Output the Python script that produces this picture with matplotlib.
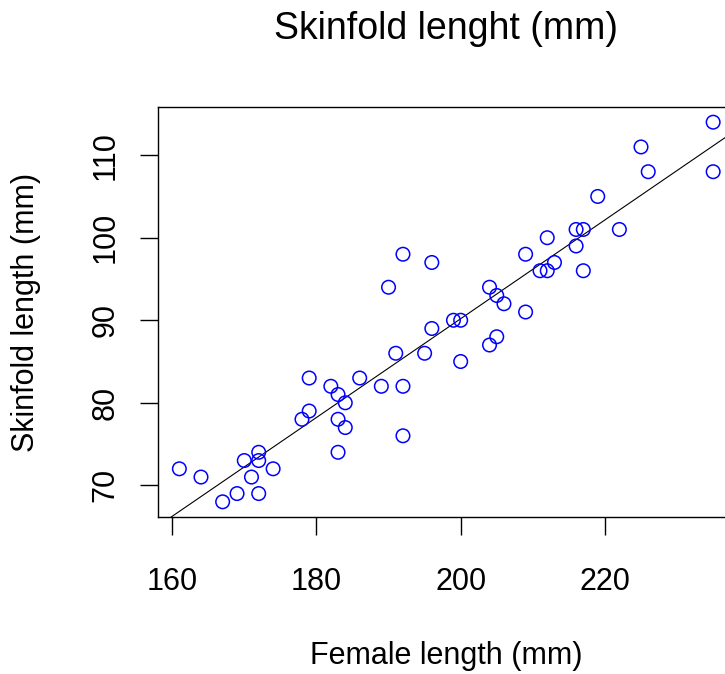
import matplotlib
matplotlib.use("Agg")
import matplotlib.pyplot as plt
import numpy as np

plt.rcParams['font.family'] = ['Liberation Sans', 'DejaVu Sans']

female_length = [161, 164, 167, 169, 172, 171, 174, 170, 172, 172,
                 179, 178, 179, 182, 183, 184, 183, 184, 183, 186,
                 189, 192, 192, 191, 195,
                 192, 196, 190, 204, 205, 206, 209, 209, 212, 211, 212, 213,
                 216, 217, 216, 217, 222,
                 199, 200, 196, 200, 204, 205,
                 235, 235, 225, 226, 219]
skinfold_length = [72, 71, 68, 69, 69, 71, 72, 73, 74, 73,
                   83, 78, 79, 82, 81, 80, 78, 77, 74, 83,
                   82, 82, 76, 86, 86,
                   98, 97, 94, 94, 93, 92, 91, 98, 100, 96, 96, 97,
                   101, 101, 99, 96, 101,
                   90, 90, 89, 85, 87, 88,
                   114, 108, 111, 108, 105]

x_ticks = [160, 180, 200, 220]
y_ticks = [70, 80, 90, 100, 110]
title = "Skinfold lenght (mm)"
xlabel = "Female length (mm)"
ylabel = "Skinfold length (mm)"

W, H = 725, 674
fig = plt.figure(figsize=(W / 100, H / 100), dpi=100)
left, right, top, bottom = 158, 734.5, 107, 517
ax = fig.add_axes([left / W, 1 - bottom / H, (right - left) / W, (bottom - top) / H])

x = np.array(female_length, dtype=float)
y = np.array(skinfold_length, dtype=float)

ax.scatter(x, y, s=95, facecolors='none', edgecolors='#0000ff', linewidths=1.1, zorder=3)

slope, intercept = np.polyfit(x, y, 1)
ax.axline((0, intercept), slope=slope, color='black', linewidth=0.8, zorder=2)

xr = x.max() - x.min()
yr = y.max() - y.min()
ax.set_xlim(x.min() - 0.04 * xr, x.max() + 0.04 * xr)
ax.set_ylim(y.min() - 0.04 * yr, y.max() + 0.04 * yr)

ax.set_xticks(x_ticks)
ax.set_yticks(y_ticks)
ax.tick_params(axis='both', direction='out', length=13, width=1.0, labelsize=22, color='black')
ax.tick_params(axis='x', pad=23)
ax.tick_params(axis='y', pad=14)
for lab in ax.get_yticklabels():
    lab.set_rotation(90)
    lab.set_va('center')
for sp in ax.spines.values():
    sp.set_linewidth(1.0)

fig.text(446 / W, 1 - 39 / H, title, ha='center', va='baseline', fontsize=27)
fig.text(446 / W, 1 - 664 / H, xlabel, ha='center', va='baseline', fontsize=22)
fig.text(26.5 / W, 1 - 312 / H, ylabel, ha='center', va='center', rotation=90, fontsize=22)

fig.savefig("out.png", dpi=100)
